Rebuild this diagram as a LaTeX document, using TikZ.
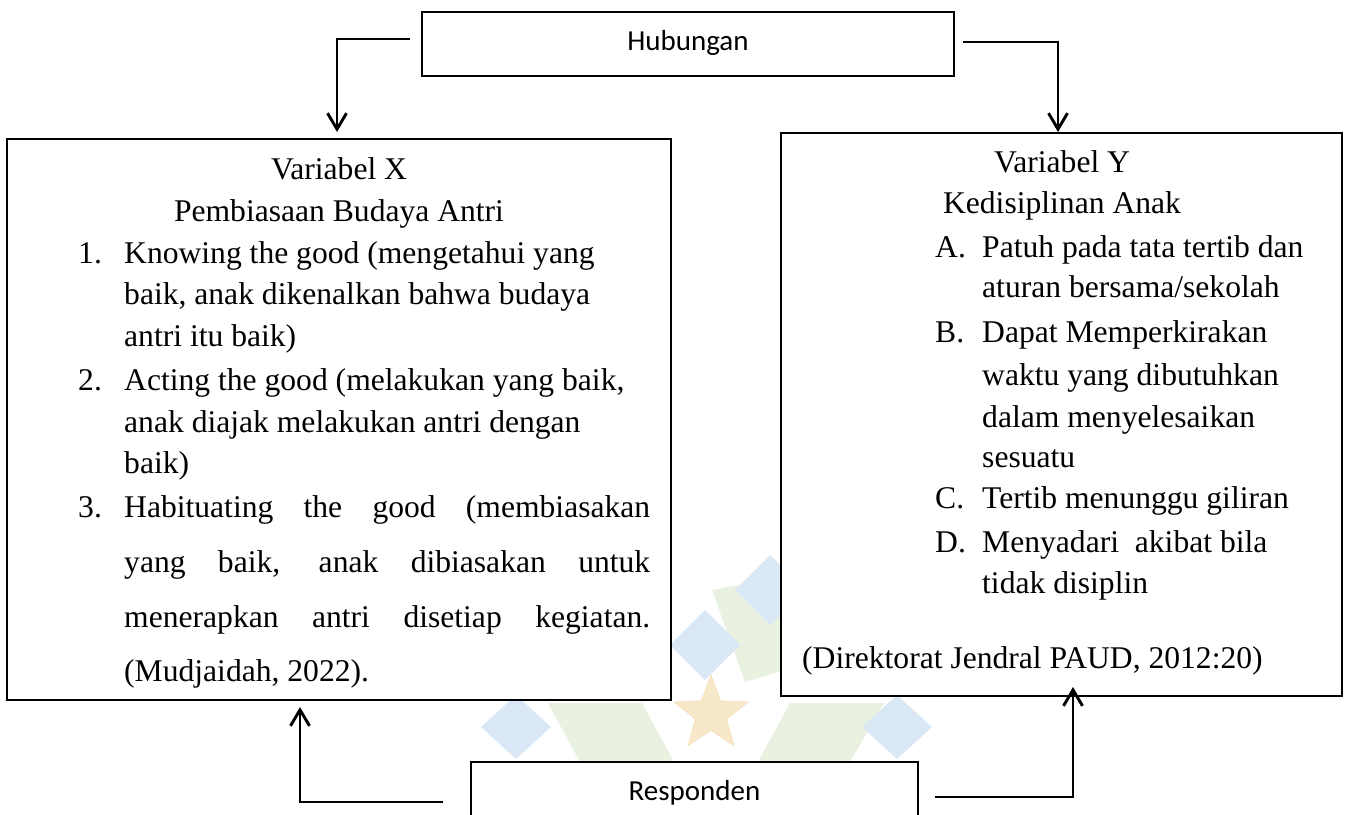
\documentclass[tikz,border=0pt]{standalone}
\usepackage{fontspec}
\setmainfont{Liberation Serif}
\newfontfamily\calib{Carlito}
\usetikzlibrary{arrows.meta,shapes.geometric}
\newcommand\serifsz{\fontsize{31.6}{38}\selectfont}
\newcommand\lblsz{\calib\fontsize{29}{34}\selectfont}
\definecolor{wmblue}{RGB}{218,232,246}
\definecolor{wmgreen}{RGB}{233,242,225}
\definecolor{wmstar}{RGB}{246,232,200}
\tikzset{
  box/.style={draw=black, line width=1.5pt, fill=white, inner sep=0pt, outer sep=0pt},
  conn/.style={line width=2.9pt, -{Straight Barb[length=16pt,width=19pt]}},
  txt/.style={font=\serifsz, inner sep=0pt, anchor=base west},
  ctxt/.style={font=\serifsz, inner sep=0pt, anchor=base},
  lbl/.style={font=\lblsz, inner sep=0pt, anchor=base}
}
\begin{document}
\begin{tikzpicture}[x=1pt,y=-1pt]
\clip (0,0) rectangle (1346,814);
\fill[white] (0,0) rectangle (1346,814);
% watermark (faint logo)
\fill[wmgreen] (712,590) -- (792,575) -- (792,668) -- (745,682) -- cycle;
\fill[wmgreen] (548,703) -- (642,703) -- (674,762) -- (580,762) -- cycle;
\fill[wmgreen] (790,703) -- (884,703) -- (850,762) -- (758,762) -- cycle;
\fill[wmgreen] (610,640) -- (672,640) -- (672,700) -- (640,700) -- cycle;
\fill[wmblue] (705,610) -- (740,645) -- (705,680) -- (670,645) -- cycle;
\fill[wmblue] (770,555) -- (805,590) -- (770,625) -- (735,590) -- cycle;
\fill[wmblue] (516,695) -- (551,727) -- (516,759) -- (481,727) -- cycle;
\fill[wmblue] (897,695) -- (932,727) -- (897,759) -- (862,727) -- cycle;
\node[star, star points=5, star point ratio=2.4, minimum size=78pt, fill=wmstar, draw=wmstar!90!orange, line width=0.6pt, inner sep=0pt] (wmst) at (711,714) {};
% boxes
\node[box, minimum width=532pt, minimum height=64pt] (hub) at (688,44) {};
\node[box, minimum width=664pt, minimum height=561pt] (vx) at (339,419.5) {};
\node[box, minimum width=561pt, minimum height=563pt] (vy) at (1061.5,414.5) {};
\node[box, minimum width=447pt, minimum height=80pt] (resp) at (694.5,802) {};
% labels
\node[lbl] (thub) at (688,50) {Hubungan};
\node[lbl] (tresp) at (694.5,800) {Responden};
% left box text
\node[ctxt] (x0) at (339,179) {Variabel X};
\node[ctxt] (x1) at (339,221) {Pembiasaan Budaya Antri};
\node[txt] (xn1) at (78,263) {1.};
\node[txt] (x2) at (124,263) {Knowing the good (mengetahui yang};
\node[txt] (x3) at (124,304) {baik, anak dikenalkan bahwa budaya};
\node[txt] (x4) at (124,346) {antri itu baik)};
\node[txt] (xn2) at (78,390) {2.};
\node[txt] (x5) at (124,390) {Acting the good (melakukan yang baik,};
\node[txt] (x6) at (124,432) {anak diajak melakukan antri dengan};
\node[txt] (x7) at (124,473) {baik)};
\node[txt] (xn3) at (78,517) {3.};
\node[txt] (x8) at (124,517) {\makebox[526pt][s]{Habituating the good (membiasakan}};
\node[txt] (x9) at (124,572) {\makebox[526pt][s]{yang baik, anak dibiasakan untuk}};
\node[txt] (x10) at (124,627) {\makebox[526pt][s]{menerapkan antri disetiap kegiatan.}};
\node[txt] (x11) at (124,681) {(Mudjaidah, 2022).};
% right box text
\node[ctxt] (y0) at (1062,172) {Variabel Y};
\node[ctxt] (y1) at (1062,213) {Kedisiplinan Anak};
\node[txt] (yna) at (935,257) {A.};
\node[txt] (y2) at (982,257) {Patuh pada tata tertib dan};
\node[txt] (y3) at (982,297) {aturan bersama/sekolah};
\node[txt] (ynb) at (935,342) {B.};
\node[txt] (y4) at (982,342) {Dapat Memperkirakan};
\node[txt] (y5) at (982,385) {waktu yang dibutuhkan};
\node[txt] (y6) at (982,427) {dalam menyelesaikan};
\node[txt] (y7) at (982,467) {sesuatu};
\node[txt] (ync) at (935,508) {C.};
\node[txt] (y8) at (982,508) {Tertib menunggu giliran};
\node[txt] (ynd) at (935,552) {D.};
\node[txt] (y9) at (982,552) {Menyadari\ \ akibat bila};
\node[txt] (y10) at (982,593) {tidak disiplin};
\node[txt] (y11) at (802,668) {(Direktorat Jendral PAUD, 2012:20)};
% connector end points
\coordinate (xa) at (337,139);
\coordinate (ya) at (1058,133);
\coordinate (xb) at (300,700);
\coordinate (yb) at (1073,696);
% connectors
\draw[conn, shorten <=12pt, shorten >=7pt] ([yshift=5pt]hub.west) -| (xa);
\draw[conn, shorten <=9pt, shorten >=1pt] ([yshift=2pt]hub.east) -| (ya);
\draw[conn, shorten <=28pt, shorten >=7pt] (resp.west) -| (xb);
\draw[conn, shorten <=17pt, shorten >=-9pt] ([yshift=5pt]resp.east) -| (yb);
\end{tikzpicture}
\end{document}
